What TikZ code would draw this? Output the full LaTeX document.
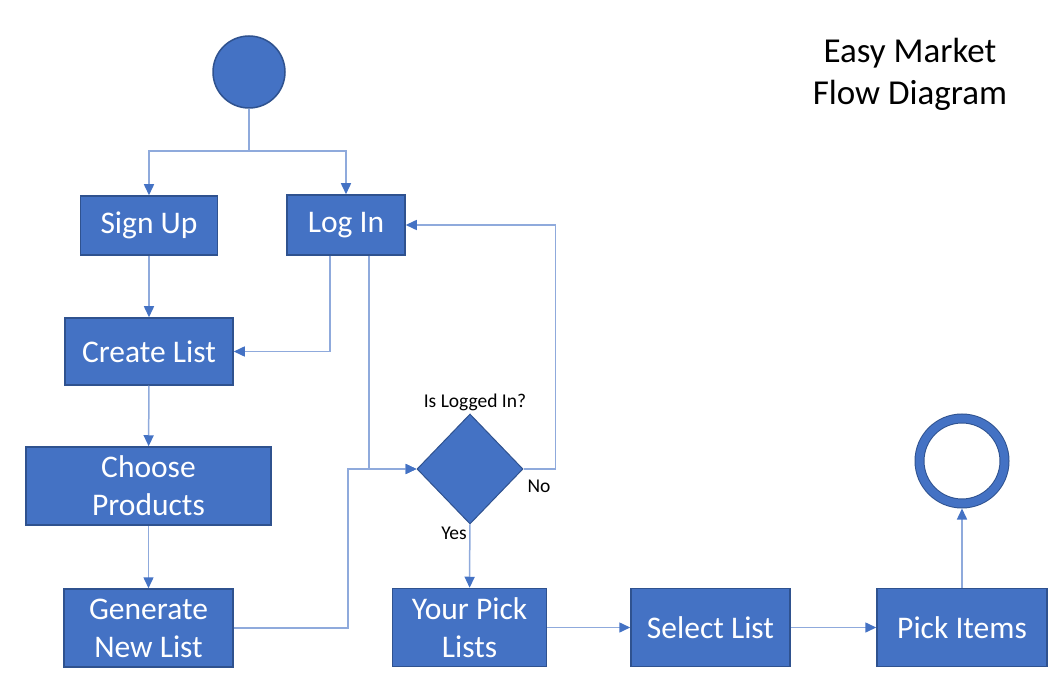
\documentclass[tikz,border=0pt]{standalone}
\usepackage{fontspec}
\setmainfont{Carlito}
\usetikzlibrary{arrows.meta,shapes.geometric}
\definecolor{boxblue}{HTML}{4472C4}
\definecolor{edgeblue}{HTML}{2F528F}
\definecolor{lineblue}{HTML}{8FAADC}
\begin{document}
\begin{tikzpicture}[x=1pt,y=-1pt,
    box/.style={draw=edgeblue,line width=1.5pt,fill=boxblue,text=white,align=center,
        font=\fontsize{31.5}{38}\selectfont,inner sep=0pt},
    decision/.style={diamond,draw=edgeblue,line width=1pt,fill=boxblue,inner sep=0pt},
    conn/.style={draw=lineblue,line width=1.5pt,-{Triangle[length=11pt,width=10pt,color=boxblue]}},
    tag/.style={font=\fontsize{19.5}{22}\selectfont}]
    \useasboundingbox (0,0) rectangle (1060,684);
    % start and end
    \node[circle,draw=edgeblue,line width=1.5pt,fill=boxblue,minimum size=72pt] (start) at (249,72) {};
    \node[circle,draw=edgeblue,line width=1pt,double=boxblue,double distance=8pt,fill=white,
        minimum size=85pt,outer sep=5pt] (finish) at (962,461) {};
    \node[font=\fontsize{35}{42}\selectfont,align=center] (title) at (910,74) {Easy Market\\Flow Diagram};
    % boxes
    \node[box,minimum width=137pt,minimum height=59pt] (signup) at (149,225.5) {Sign Up};
    \node[box,minimum width=118pt,minimum height=60pt] (login) at (346,225) {Log In};
    \node[box,minimum width=168pt,minimum height=67pt] (createlist) at (149,351.5) {Create List};
    \node[box,minimum width=245pt,minimum height=78pt] (choose) at (148.5,486) {Choose\\Products};
    \node[box,minimum width=169pt,minimum height=78pt] (generate) at (148.5,628) {Generate\\New List};
    \node[decision,minimum width=106pt,minimum height=110pt] (check) at (470,469) {};
    \node[box,minimum width=154pt,minimum height=78pt] (picklists) at (469.5,627.5) {Your Pick\\Lists};
    \node[box,minimum width=159pt,minimum height=78pt] (selectlist) at (710.5,627.5) {Select List};
    \node[box,minimum width=170pt,minimum height=78pt] (pickitems) at (962,627.5) {Pick Items};
    \node[tag] (asklabel) at (475,402) {Is Logged In?};
    \node[tag] (nolabel) at (539,486) {No};
    \node[tag] (yeslabel) at (454,533) {Yes};
    % connectors
    \coordinate (fork) at (249,151);
    \draw[draw=lineblue,line width=1.5pt] (start.south) -- (fork);
    \draw[conn] (fork) -| (signup.north);
    \draw[conn] (fork) -| (login.north);
    \draw[conn] (signup) -- (createlist);
    \draw[conn] ([xshift=-16pt]login.south) |- (createlist.east);
    \draw[conn] ([xshift=23pt]login.south) |- (check.west);
    \draw[conn] (createlist) -- (choose);
    \draw[conn] (choose) -- (generate);
    \draw[conn] (generate.east) -- ++(114,0) |- (check.west);
    \draw[conn] (check.east) -- ++(32,0) |- (login.east);
    \draw[conn] (check) -- (picklists);
    \draw[conn] (picklists) -- (selectlist);
    \draw[conn] (selectlist) -- (pickitems);
    \draw[conn] (pickitems) -- (finish);
\end{tikzpicture}
\end{document}
